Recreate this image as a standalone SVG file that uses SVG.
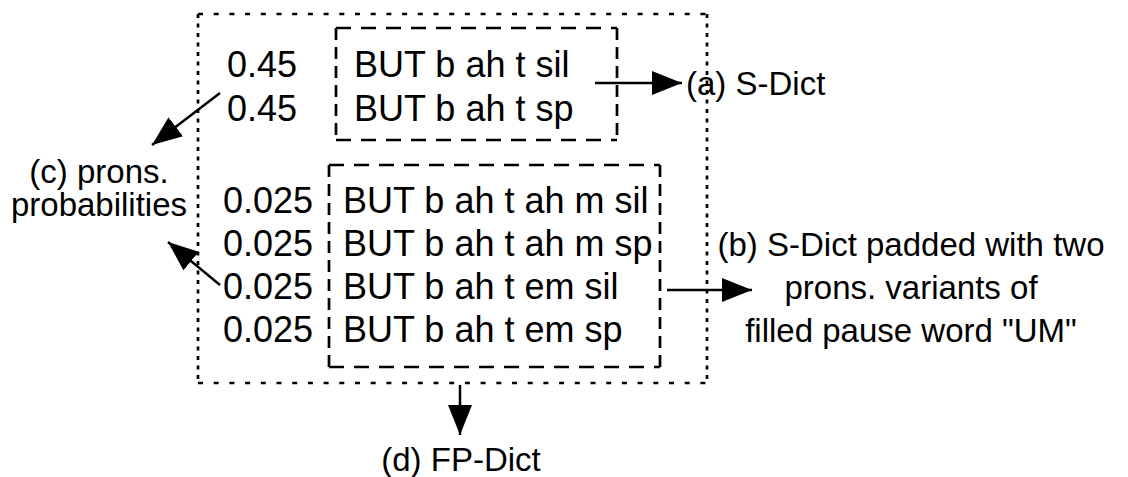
<svg xmlns="http://www.w3.org/2000/svg" width="1128" height="477" viewBox="0 0 1128 477">
<defs>
<marker id="ah" markerWidth="32" markerHeight="24" refX="30" refY="12" orient="auto" markerUnits="userSpaceOnUse">
<path d="M0,0 L30,12 L0,24 Z" fill="#000"/>
</marker>
<style>
text{font-family:"Liberation Sans",Arial,sans-serif;font-size:36px;fill:#000}
.lbl{font-size:33px}
.doth{fill:none;stroke:#000;stroke-width:2.7;stroke-dasharray:5 10.7}
.dotv{fill:none;stroke:#000;stroke-width:2.7;stroke-dasharray:4 5.5}
.dashh{fill:none;stroke:#000;stroke-width:2.7;stroke-dasharray:15 10}
.dashv{fill:none;stroke:#000;stroke-width:2.7;stroke-dasharray:12 7}
.arr{fill:none;stroke:#000;stroke-width:2.5;marker-end:url(#ah)}
.c{text-anchor:middle}
</style>
</defs>
<rect width="1128" height="477" fill="#fff"/>
<g id="fpdict">
<path class="doth" d="M198,14 H707 M198,383 H707"/>
<path class="dotv" d="M198,14 V383 M707,14 V383"/>
</g>
<g id="sdict">
<path class="dashh" d="M336,28 H617 M336,140 H617"/>
<path class="dashv" d="M336,28 V140 M617,28 V140"/>
<text x="227" y="77">0.45</text>
<text x="354" y="77">BUT b ah t sil</text>
<text x="227" y="121">0.45</text>
<text x="354" y="121">BUT b ah t sp</text>
</g>
<g id="padded">
<path class="dashh" d="M329,165 H660 M329,367 H660"/>
<path class="dashv" d="M329,165 V367 M660,165 V367"/>
<text x="223" y="213">0.025</text>
<text x="343" y="213">BUT b ah t ah m sil</text>
<text x="223" y="256">0.025</text>
<text x="343" y="256">BUT b ah t ah m sp</text>
<text x="223" y="299">0.025</text>
<text x="343" y="299">BUT b ah t em sil</text>
<text x="223" y="342">0.025</text>
<text x="343" y="342">BUT b ah t em sp</text>
</g>
<g id="label-a"><text class="lbl" x="686" y="95">(a) S-Dict</text></g>
<g id="label-b">
<text class="lbl c" x="911" y="256">(b) S-Dict padded with two</text>
<text class="lbl c" x="911" y="299">prons. variants of</text>
<text class="lbl c" x="911" y="342">filled pause word "UM"</text>
</g>
<g id="label-c">
<text class="lbl c" x="99" y="183">(c) prons.</text>
<text class="lbl c" x="99" y="216">probabilities</text>
</g>
<g id="label-d"><text class="lbl c" x="461" y="471">(d) FP-Dict</text></g>
<g id="connectors">
<line class="arr" x1="595" y1="83" x2="682" y2="83"/>
<line class="arr" x1="667" y1="290" x2="752" y2="290"/>
<line class="arr" x1="220" y1="93" x2="152" y2="145"/>
<line class="arr" x1="220" y1="285" x2="168" y2="242"/>
<line class="arr" x1="460" y1="385" x2="460" y2="435"/>
</g>
</svg>
